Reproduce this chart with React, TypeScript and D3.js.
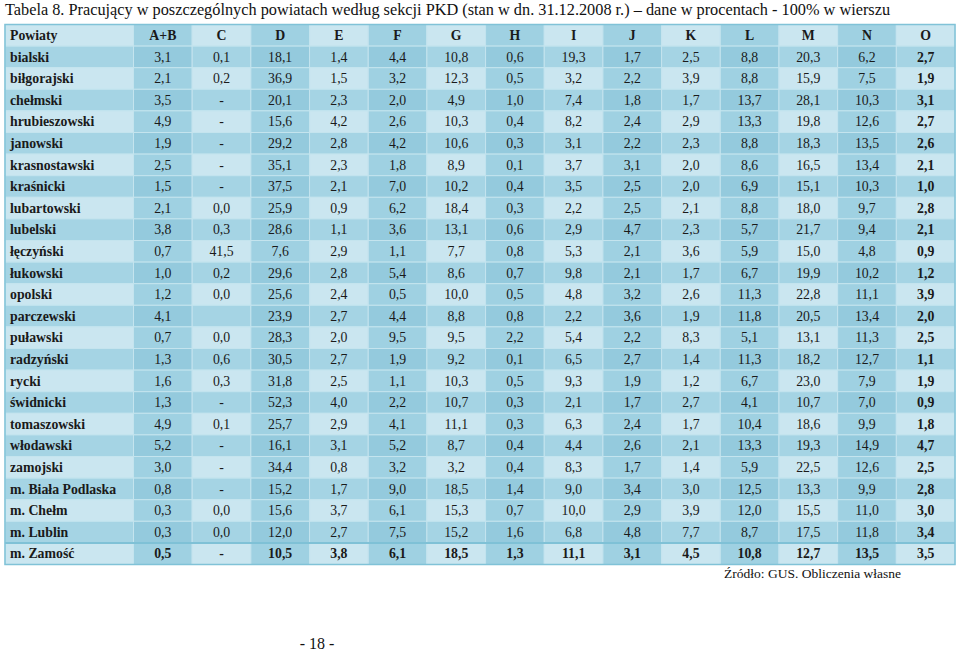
import React, { useEffect, useRef } from 'react';
import * as d3 from 'd3';

const title = 'Tabela 8. Pracujący w poszczególnych powiatach według sekcji PKD (stan w dn. 31.12.2008 r.) – dane w procentach - 100% w wierszu';
const sections = ['A+B', 'C', 'D', 'E', 'F', 'G', 'H', 'I', 'J', 'K', 'L', 'M', 'N', 'O'];
const powiaty = [
  'bialski', 'biłgorajski', 'chełmski', 'hrubieszowski', 'janowski', 'krasnostawski', 'kraśnicki',
  'lubartowski', 'lubelski', 'łęczyński', 'łukowski', 'opolski', 'parczewski', 'puławski',
  'radzyński', 'rycki', 'świdnicki', 'tomaszowski', 'włodawski', 'zamojski',
  'm. Biała Podlaska', 'm. Chełm', 'm. Lublin', 'm. Zamość',
];
// udział w % wg sekcji, w kolejności jak sections
const values = [
  ['3,1', '0,1', '18,1', '1,4', '4,4', '10,8', '0,6', '19,3', '1,7', '2,5', '8,8', '20,3', '6,2', '2,7'],
  ['2,1', '0,2', '36,9', '1,5', '3,2', '12,3', '0,5', '3,2', '2,2', '3,9', '8,8', '15,9', '7,5', '1,9'],
  ['3,5', '-', '20,1', '2,3', '2,0', '4,9', '1,0', '7,4', '1,8', '1,7', '13,7', '28,1', '10,3', '3,1'],
  ['4,9', '-', '15,6', '4,2', '2,6', '10,3', '0,4', '8,2', '2,4', '2,9', '13,3', '19,8', '12,6', '2,7'],
  ['1,9', '-', '29,2', '2,8', '4,2', '10,6', '0,3', '3,1', '2,2', '2,3', '8,8', '18,3', '13,5', '2,6'],
  ['2,5', '-', '35,1', '2,3', '1,8', '8,9', '0,1', '3,7', '3,1', '2,0', '8,6', '16,5', '13,4', '2,1'],
  ['1,5', '-', '37,5', '2,1', '7,0', '10,2', '0,4', '3,5', '2,5', '2,0', '6,9', '15,1', '10,3', '1,0'],
  ['2,1', '0,0', '25,9', '0,9', '6,2', '18,4', '0,3', '2,2', '2,5', '2,1', '8,8', '18,0', '9,7', '2,8'],
  ['3,8', '0,3', '28,6', '1,1', '3,6', '13,1', '0,6', '2,9', '4,7', '2,3', '5,7', '21,7', '9,4', '2,1'],
  ['0,7', '41,5', '7,6', '2,9', '1,1', '7,7', '0,8', '5,3', '2,1', '3,6', '5,9', '15,0', '4,8', '0,9'],
  ['1,0', '0,2', '29,6', '2,8', '5,4', '8,6', '0,7', '9,8', '2,1', '1,7', '6,7', '19,9', '10,2', '1,2'],
  ['1,2', '0,0', '25,6', '2,4', '0,5', '10,0', '0,5', '4,8', '3,2', '2,6', '11,3', '22,8', '11,1', '3,9'],
  ['4,1', '', '23,9', '2,7', '4,4', '8,8', '0,8', '2,2', '3,6', '1,9', '11,8', '20,5', '13,4', '2,0'],
  ['0,7', '0,0', '28,3', '2,0', '9,5', '9,5', '2,2', '5,4', '2,2', '8,3', '5,1', '13,1', '11,3', '2,5'],
  ['1,3', '0,6', '30,5', '2,7', '1,9', '9,2', '0,1', '6,5', '2,7', '1,4', '11,3', '18,2', '12,7', '1,1'],
  ['1,6', '0,3', '31,8', '2,5', '1,1', '10,3', '0,5', '9,3', '1,9', '1,2', '6,7', '23,0', '7,9', '1,9'],
  ['1,3', '-', '52,3', '4,0', '2,2', '10,7', '0,3', '2,1', '1,7', '2,7', '4,1', '10,7', '7,0', '0,9'],
  ['4,9', '0,1', '25,7', '2,9', '4,1', '11,1', '0,3', '6,3', '2,4', '1,7', '10,4', '18,6', '9,9', '1,8'],
  ['5,2', '-', '16,1', '3,1', '5,2', '8,7', '0,4', '4,4', '2,6', '2,1', '13,3', '19,3', '14,9', '4,7'],
  ['3,0', '-', '34,4', '0,8', '3,2', '3,2', '0,4', '8,3', '1,7', '1,4', '5,9', '22,5', '12,6', '2,5'],
  ['0,8', '-', '15,2', '1,7', '9,0', '18,5', '1,4', '9,0', '3,4', '3,0', '12,5', '13,3', '9,9', '2,8'],
  ['0,3', '0,0', '15,6', '3,7', '6,1', '15,3', '0,7', '10,0', '2,9', '3,9', '12,0', '15,5', '11,0', '3,0'],
  ['0,3', '0,0', '12,0', '2,7', '7,5', '15,2', '1,6', '6,8', '4,8', '7,7', '8,7', '17,5', '11,8', '3,4'],
  ['0,5', '-', '10,5', '3,8', '6,1', '18,5', '1,3', '11,1', '3,1', '4,5', '10,8', '12,7', '13,5', '3,5'],
];
const source = 'Źródło: GUS. Obliczenia własne';
const pageNo = '- 18 -';

function App() {
  const ref = useRef<SVGSVGElement | null>(null);

  useEffect(() => {
    const width = 959, height = 652;
    const svg = d3.select(ref.current);
    svg.selectAll('*').remove();
    const font = '"Liberation Serif", "Times New Roman", serif';

    const left = 5, right = 955, firstW = 128.5;
    const top = 24.5, rowH = 21.6;
    const x = d3.scaleBand<string>().domain(sections).range([left + firstW, right]);
    const rowKeys = ['header', ...powiaty];
    const y = d3.scaleBand<string>().domain(rowKeys).range([top, top + rowH * rowKeys.length]);

    const fill = (ri: number, ci: number) => {
      const darkRow = ri % 2 === 1;
      const darkCol = ci % 2 === 1; // ci=0 is Powiaty column
      if (darkRow) return darkCol ? '#94cadd' : '#a5d4e4';
      return darkCol ? '#9fd1e2' : '#cae6f0';
    };

    svg.append('text').attr('x', 5).attr('y', 15).attr('font-family', font)
      .attr('font-size', 16.3).attr('fill', '#111').text(title);

    const cols = ['Powiaty', ...sections];
    const colX = (ci: number) => ci === 0 ? left : x(sections[ci - 1])!;
    const colW = (ci: number) => ci === 0 ? firstW : x.bandwidth();

    rowKeys.forEach((rk, ri) => {
      const y0 = y(rk)!;
      const g = svg.append('g');
      cols.forEach((c, ci) => {
        g.append('rect').attr('x', colX(ci)).attr('y', y0).attr('width', colW(ci)).attr('height', y.bandwidth())
          .attr('fill', fill(ri, ci)).attr('stroke', '#c4e4ee').attr('stroke-width', 1);
        let label = '';
        if (ri === 0) label = c;
        else label = ci === 0 ? powiaty[ri - 1] : values[ri - 1][ci - 1];
        const bold = ri === 0 || ci === 0 || ci === cols.length - 1 || ri === rowKeys.length - 1;
        g.append('text')
          .attr('x', ci === 0 ? colX(ci) + 5 : colX(ci) + colW(ci) / 2)
          .attr('y', y0 + y.bandwidth() / 2 + 4.6)
          .attr('text-anchor', ci === 0 ? 'start' : 'middle')
          .attr('font-family', font).attr('font-size', 13.8)
          .attr('font-weight', bold ? 'bold' : 'normal')
          .attr('fill', '#1a1a1a').text(label);
      });
    });

    // separator above last row and outer border
    const lastY = y(rowKeys[rowKeys.length - 1])!;
    svg.append('line').attr('x1', left).attr('x2', right).attr('y1', lastY).attr('y2', lastY)
      .attr('stroke', '#7fc1d6').attr('stroke-width', 2);
    svg.append('rect').attr('x', left).attr('y', top).attr('width', right - left)
      .attr('height', rowH * rowKeys.length).attr('fill', 'none')
      .attr('stroke', '#80c2d7').attr('stroke-width', 1.5);

    svg.append('text').attr('x', 901).attr('y', 578).attr('text-anchor', 'end')
      .attr('font-family', font).attr('font-size', 13.5).attr('fill', '#111').text(source);
    svg.append('text').attr('x', 317).attr('y', 649).attr('text-anchor', 'middle')
      .attr('font-family', font).attr('font-size', 16).attr('fill', '#111').text(pageNo);

    svg.attr('width', width).attr('height', height);
  }, []);

  return (
    <div style={{ position: 'absolute', left: 0, top: 0, background: '#fff' }}>
      <svg ref={ref} width={959} height={652} style={{ display: 'block' }} aria-label="Tabela 8" />
    </div>
  );
}

export default App;
